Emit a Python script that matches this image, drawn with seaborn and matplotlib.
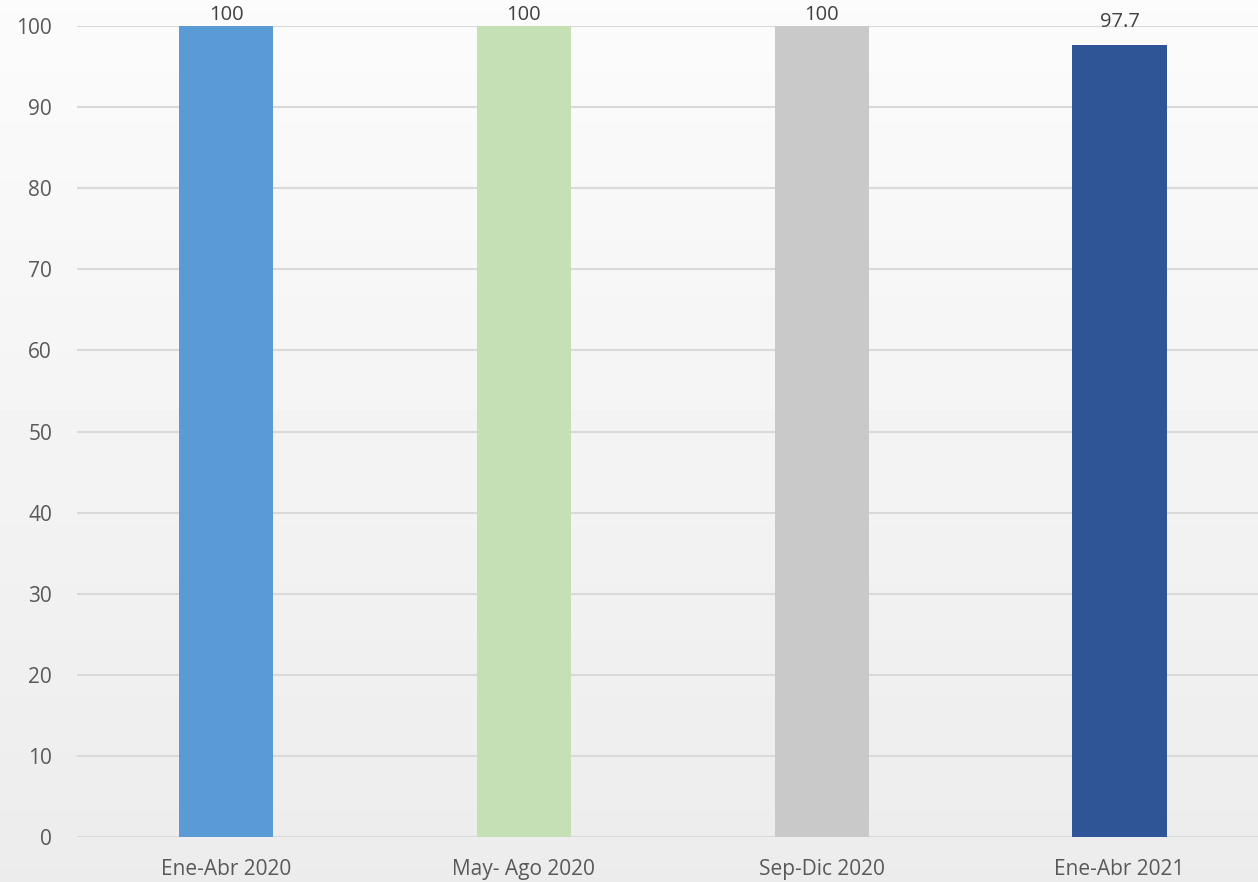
import numpy as np
import pandas as pd
import seaborn as sns
import matplotlib.pyplot as plt

## data
periods = ["Ene-Abr 2020", "May- Ago 2020", "Sep-Dic 2020", "Ene-Abr 2021"]
values = [100, 100, 100, 97.7]
labels = ["100", "100", "100", "97.7"]
colors = ["#5B9BD5", "#C5E0B4", "#C9C9C9", "#2F5597"]

df = pd.DataFrame({"Periodo": periods, "Valor": values})

sns.set_theme(style="white")
plt.rcParams["font.family"] = ["Open Sans", "DejaVu Sans"]

fig = plt.figure(figsize=(12.58, 8.82), dpi=100)
fig.patch.set_facecolor("#f1f1f1")

# soft background gradient (lighter on top)
bg = fig.add_axes([0, 0, 1, 1], zorder=-10)
grad = np.linspace(0.985, 0.925, 200).reshape(-1, 1)
bg.imshow(grad, aspect="auto", cmap="gray", vmin=0, vmax=1, extent=[0, 1, 0, 1])
bg.axis("off")

ax = fig.add_axes([0.0613, 0.0510, 0.947, 0.9195])
ax.set_facecolor("none")

sns.barplot(data=df, x="Periodo", y="Valor", hue="Periodo", palette=colors,
            width=0.316, legend=False, saturation=1, linewidth=0, ax=ax, zorder=3)

# labels of the shorter bar sit a bit higher (like excel does)
for cont, lab, v in zip(ax.containers, labels, values):
    pad = 1 if v >= 100 else 9
    ax.bar_label(cont, labels=[lab], padding=pad, fontsize=14.5, color="#404040")

ax.set_ylim(0, 100)
ax.set_yticks(range(0, 101, 10))
ax.yaxis.grid(True, color="#d9d9d9", linewidth=1.5, zorder=0)
ax.set_axisbelow(True)
for s in ax.spines.values():
    s.set_visible(False)

ax.tick_params(axis="both", length=0, labelsize=15, colors="#595959")
ax.tick_params(axis="x", pad=16)
ax.tick_params(axis="y", pad=18)
ax.set_xlabel("")
ax.set_ylabel("")

fig.savefig("out.png", dpi=100, facecolor=fig.get_facecolor())
